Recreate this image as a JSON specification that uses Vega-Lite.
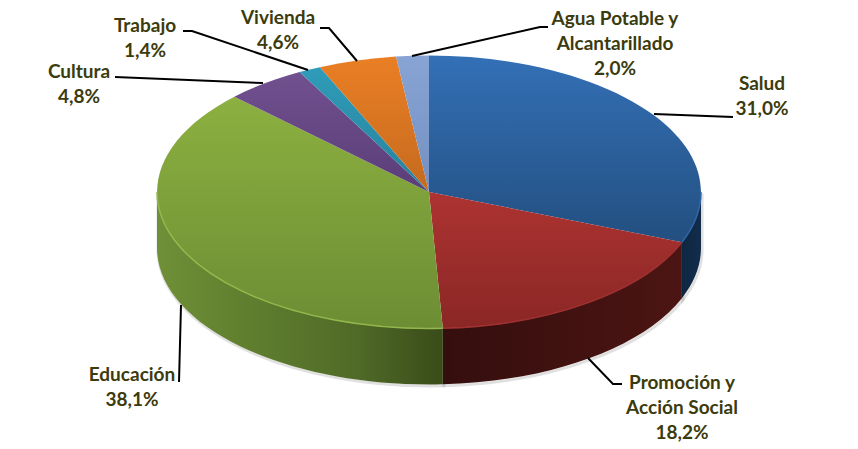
{
"$schema":"https://vega.github.io/schema/vega-lite/v6.json",
"autosize":{"type":"fit","contains":"padding"},
"padding":0,
"width":858,"height":449,
"background":"white",
"view":{"stroke":null},
"data":{"values":[
{"sector":"Salud","pct":31.0,"label":"Salud\n31,0%"},
{"sector":"Promoción y Acción Social","pct":18.2,"label":"Promoción y\nAcción Social\n18,2%"},
{"sector":"Educación","pct":38.1,"label":"Educación\n38,1%"},
{"sector":"Cultura","pct":4.8,"label":"Cultura\n4,8%"},
{"sector":"Trabajo","pct":1.4,"label":"Trabajo\n1,4%"},
{"sector":"Vivienda","pct":4.6,"label":"Vivienda\n4,6%"},
{"sector":"Agua Potable y Alcantarillado","pct":2.0,"label":"Agua Potable y\nAlcantarillado\n2,0%"}
]},
"encoding":{
 "x":{"datum":429,"type":"quantitative","axis":null,"scale":{"domain":[0,858],"nice":false,"zero":false}},
 "y":{"datum":192,"type":"quantitative","axis":null,"scale":{"domain":[449,0],"nice":false,"zero":false}}},
"layer":[
{"transform":[{"filter":"datum.pct > 10"}],
 "mark":{"type":"point","filled":false,"size":4,"opacity":0.22,"stroke":"#777777","strokeWidth":3,"fill":"transparent"},
 "encoding":{"x":{"datum":430,"type":"quantitative"},"y":{"datum":193.5,"type":"quantitative"},
  "shape":{"field":"sector","type":"nominal","legend":null,"scale":{"domain":["Salud","Promoción y Acción Social","Educación"],"range":[
   "M272,0A272,136.5,0,0,1,252.9,50.2L252.9,106.2A272,136.5,0,0,0,272,56Z",
   "M252.9,50.2A272,136.5,0,0,1,13.8,136.3L13.8,192.3A272,136.5,0,0,0,252.9,106.2Z",
   "M13.8,136.3A272,136.5,0,0,1,-272,0L-272,56A272,136.5,0,0,0,13.8,192.3Z"]}}}},
{"transform":[{"filter":"datum.sector == 'Salud'"}],
 "mark":{"type":"point","size":4,"opacity":1,"shape":"M272,0A272,136.5,0,0,1,252.9,50.2L252.9,106.2A272,136.5,0,0,0,272,56Z","filled":true,
  "fill":{"gradient":"linear","x1":0,"y1":0,"x2":1,"y2":0,"stops":[{"offset":0,"color":"#0e2742"},{"offset":1,"color":"#122c4c"}]}}},
{"transform":[{"filter":"datum.sector == 'Promoción y Acción Social'"}],
 "mark":{"type":"point","size":4,"opacity":1,"shape":"M252.9,50.2A272,136.5,0,0,1,13.8,136.3L13.8,192.3A272,136.5,0,0,0,252.9,106.2Z","filled":true,
  "fill":{"gradient":"linear","x1":0,"y1":0,"x2":1,"y2":0,"stops":[{"offset":0,"color":"#340e0d"},{"offset":1,"color":"#4c1513"}]}}},
{"transform":[{"filter":"datum.sector == 'Educación'"}],
 "mark":{"type":"point","size":4,"opacity":1,"shape":"M13.8,136.3A272,136.5,0,0,1,-272,0L-272,56A272,136.5,0,0,0,13.8,192.3Z","filled":true,
  "fill":{"gradient":"linear","x1":0,"y1":0,"x2":1,"y2":0,"stops":[{"offset":0,"color":"#6f8f38"},{"offset":0.3,"color":"#60802f"},{"offset":0.7,"color":"#506a27"},{"offset":1,"color":"#394c19"}]}}},
{"transform":[{"filter":"datum.sector == 'Salud'"}],
 "mark":{"type":"point","size":4,"opacity":1,"filled":true,"shape":"M0,0L0,-136.5A272,136.5,0,0,1,252.9,50.2Z",
  "fill":{"gradient":"linear","x1":0,"y1":0,"x2":0,"y2":1,"stops":[{"offset":0,"color":"#3370b6"},{"offset":1,"color":"#234f80"}]}}},
{"transform":[{"filter":"datum.sector == 'Promoción y Acción Social'"}],
 "mark":{"type":"point","size":4,"opacity":1,"filled":true,"shape":"M0,0L252.9,50.2A272,136.5,0,0,1,13.8,136.3Z",
  "fill":{"gradient":"linear","x1":0,"y1":0,"x2":0,"y2":1,"stops":[{"offset":0,"color":"#ad3331"},{"offset":1,"color":"#8a2725"}]}}},
{"transform":[{"filter":"datum.sector == 'Educación'"}],
 "mark":{"type":"point","size":4,"opacity":1,"filled":true,"shape":"M0,0L13.8,136.3A272,136.5,0,0,1,-194.7,-95.3Z",
  "fill":{"gradient":"linear","x1":0,"y1":0,"x2":0,"y2":1,"stops":[{"offset":0,"color":"#8cb040"},{"offset":1,"color":"#6d8d34"}]}}},
{"transform":[{"filter":"datum.sector == 'Cultura'"}],
 "mark":{"type":"point","size":4,"opacity":1,"filled":true,"shape":"M0,0L-194.7,-95.3A272,136.5,0,0,1,-129.4,-120.1Z",
  "fill":{"gradient":"linear","x1":0,"y1":0,"x2":0,"y2":1,"stops":[{"offset":0,"color":"#71508f"},{"offset":1,"color":"#5a3e78"}]}}},
{"transform":[{"filter":"datum.sector == 'Trabajo'"}],
 "mark":{"type":"point","size":4,"opacity":1,"filled":true,"shape":"M0,0L-129.4,-120.1A272,136.5,0,0,1,-109,-124.8Z",
  "fill":{"gradient":"linear","x1":0,"y1":0,"x2":0,"y2":1,"stops":[{"offset":0,"color":"#2f9cb9"},{"offset":1,"color":"#27829b"}]}}},
{"transform":[{"filter":"datum.sector == 'Vivienda'"}],
 "mark":{"type":"point","size":4,"opacity":1,"filled":true,"shape":"M0,0L-109,-124.8A272,136.5,0,0,1,-33,-135.5Z",
  "fill":{"gradient":"linear","x1":0,"y1":0,"x2":0,"y2":1,"stops":[{"offset":0,"color":"#ea7f24"},{"offset":1,"color":"#c56a1f"}]}}},
{"transform":[{"filter":"datum.sector == 'Agua Potable y Alcantarillado'"}],
 "mark":{"type":"point","size":4,"opacity":1,"filled":true,"shape":"M0,0L-33,-135.5A272,136.5,0,0,1,0,-136.5Z",
  "fill":{"gradient":"linear","x1":0,"y1":0,"x2":0,"y2":1,"stops":[{"offset":0,"color":"#87a4d4"},{"offset":1,"color":"#7490c0"}]}}},
{"transform":[{"filter":"datum.pct > 10"}],
 "mark":{"type":"point","filled":false,"size":4,"opacity":1,"strokeWidth":1.5,"fill":"transparent"},
 "encoding":{
  "shape":{"field":"sector","type":"nominal","legend":null,"scale":{"domain":["Salud","Promoción y Acción Social","Educación"],"range":[
   "M272,0A272,136.5,0,0,1,252.9,50.2",
   "M252.9,50.2A272,136.5,0,0,1,13.8,136.3",
   "M13.8,136.3A272,136.5,0,0,1,-272,0"]}},
  "stroke":{"field":"sector","type":"nominal","legend":null,"scale":{"domain":["Salud","Promoción y Acción Social","Educación"],"range":["#2f67a6","#a03030","#94b84c"]}}}},
{"mark":{"type":"point","filled":false,"size":4,"opacity":1,"stroke":"#000000","strokeWidth":2,"fill":"transparent"},
 "encoding":{
  "shape":{"field":"sector","type":"nominal","legend":null,"scale":{"domain":["Salud","Promoción y Acción Social","Educación","Cultura","Trabajo","Vivienda","Agua Potable y Alcantarillado"],"range":[
   "M225,-78L304,-75",
   "M159,166L184,192L193,192",
   "M-248,113L-250,190",
   "M-166,-109L-314,-115",
   "M-121,-122L-237,-161L-246,-161",
   "M-72,-131L-100,-164L-109,-164",
   "M-17,-136L111,-165L119,-165"]}}}},
{"transform":[{"filter":"datum.sector == 'Salud'"}],"mark":{"type":"text","font":"Lato","fontWeight":"bold","fontSize":19,"lineBreak":"\n","lineHeight":25,"align":"center","baseline":"middle","color":"#3b3b0d"},
 "encoding":{"x":{"datum":762,"type":"quantitative"},"y":{"datum":84,"type":"quantitative"},"text":{"field":"label"}}},
{"transform":[{"filter":"datum.sector == 'Promoción y Acción Social'"}],"mark":{"type":"text","font":"Lato","fontWeight":"bold","fontSize":19,"lineBreak":"\n","lineHeight":25,"align":"center","baseline":"middle","color":"#3b3b0d"},
 "encoding":{"x":{"datum":682,"type":"quantitative"},"y":{"datum":383,"type":"quantitative"},"text":{"field":"label"}}},
{"transform":[{"filter":"datum.sector == 'Educación'"}],"mark":{"type":"text","font":"Lato","fontWeight":"bold","fontSize":19,"lineBreak":"\n","lineHeight":25,"align":"center","baseline":"middle","color":"#3b3b0d"},
 "encoding":{"x":{"datum":132,"type":"quantitative"},"y":{"datum":375,"type":"quantitative"},"text":{"field":"label"}}},
{"transform":[{"filter":"datum.sector == 'Cultura'"}],"mark":{"type":"text","font":"Lato","fontWeight":"bold","fontSize":19,"lineBreak":"\n","lineHeight":25,"align":"center","baseline":"middle","color":"#3b3b0d"},
 "encoding":{"x":{"datum":79,"type":"quantitative"},"y":{"datum":72,"type":"quantitative"},"text":{"field":"label"}}},
{"transform":[{"filter":"datum.sector == 'Trabajo'"}],"mark":{"type":"text","font":"Lato","fontWeight":"bold","fontSize":19,"lineBreak":"\n","lineHeight":25,"align":"center","baseline":"middle","color":"#3b3b0d"},
 "encoding":{"x":{"datum":145,"type":"quantitative"},"y":{"datum":26,"type":"quantitative"},"text":{"field":"label"}}},
{"transform":[{"filter":"datum.sector == 'Vivienda'"}],"mark":{"type":"text","font":"Lato","fontWeight":"bold","fontSize":19,"lineBreak":"\n","lineHeight":25,"align":"center","baseline":"middle","color":"#3b3b0d"},
 "encoding":{"x":{"datum":278,"type":"quantitative"},"y":{"datum":18,"type":"quantitative"},"text":{"field":"label"}}},
{"transform":[{"filter":"datum.sector == 'Agua Potable y Alcantarillado'"}],"mark":{"type":"text","font":"Lato","fontWeight":"bold","fontSize":19,"lineBreak":"\n","lineHeight":25,"align":"center","baseline":"middle","color":"#3b3b0d"},
 "encoding":{"x":{"datum":615,"type":"quantitative"},"y":{"datum":19,"type":"quantitative"},"text":{"field":"label"}}}
],
"resolve":{"scale":{"shape":"independent","stroke":"independent"}}
}
